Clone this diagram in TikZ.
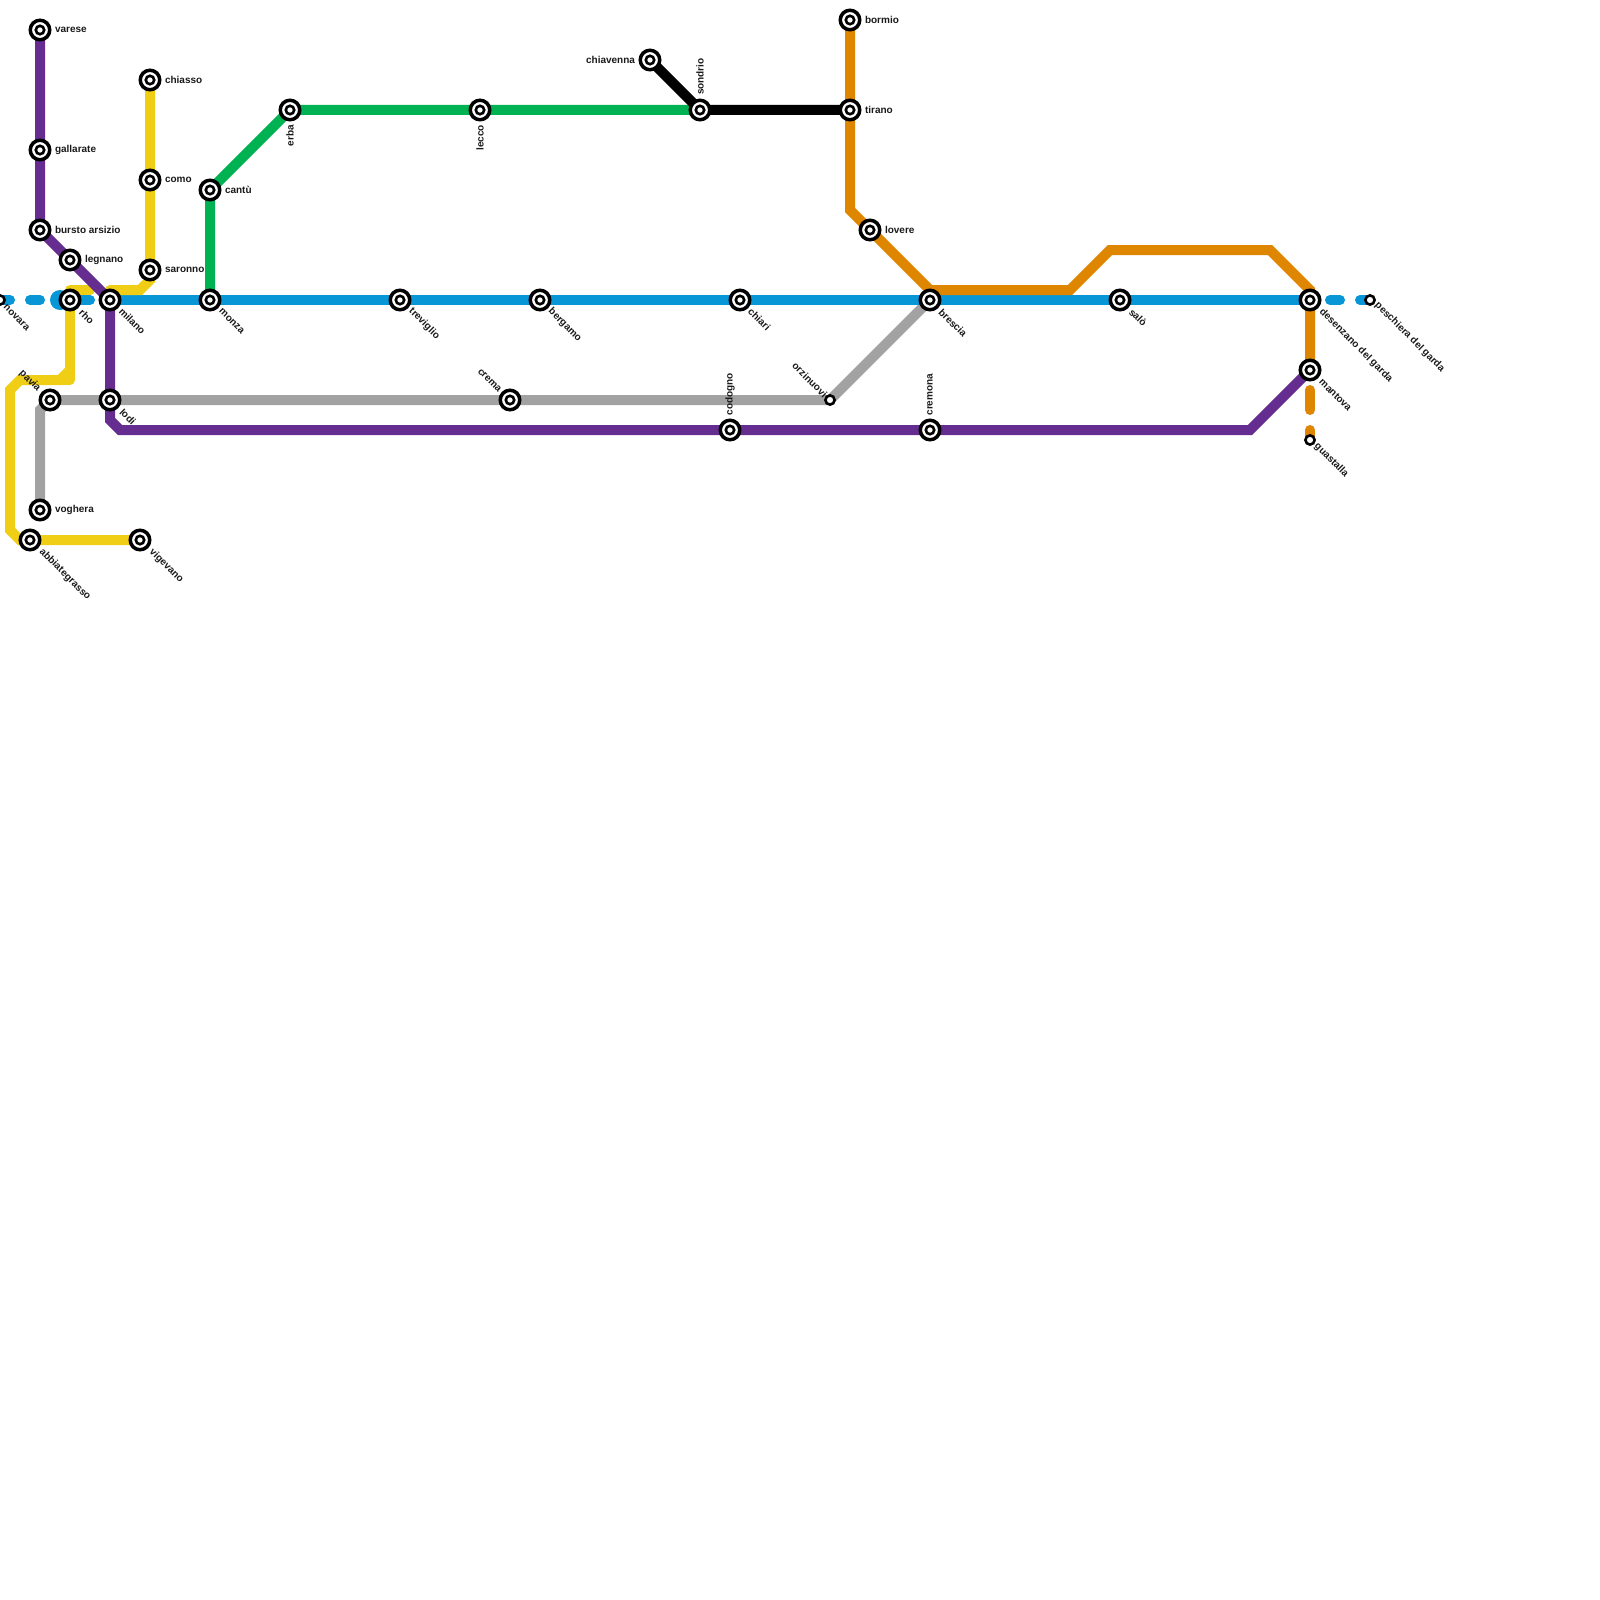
\documentclass[tikz,border=0pt]{standalone}
\usepackage{fontspec}
\setmainfont{Liberation Sans}
\begin{document}
\begin{tikzpicture}[x=0.5pt,y=-0.5pt,
  metro/.style={line width=5pt,line join=miter,line cap=round},
  blueline/.style={metro,draw=lblue},
  st/.style={circle,draw=black,fill=white,line width=1.75pt,minimum size=9.75pt,inner sep=0pt,outer sep=0pt,
    path picture={\draw[black,line width=1.3pt] (path picture bounding box.center) circle (2.1pt);}},
  sm/.style={circle,draw=black,fill=white,line width=1.3pt,minimum size=4.6pt,inner sep=0pt,outer sep=0pt},
  lab/.style={font=\bfseries\fontsize{5}{6}\selectfont,text=labc,inner sep=0pt,outer sep=0pt},
  rt/.style={lab,anchor=west},
  lf/.style={lab,anchor=east},
  dr/.style={lab,rotate=-45,anchor=west},
  ul/.style={lab,rotate=-45,anchor=east},
  up/.style={lab,rotate=90,anchor=west},
  dn/.style={lab,rotate=90,anchor=east}]
\definecolor{lblue}{HTML}{0896D7}
\definecolor{lyellow}{HTML}{F0CE15}
\definecolor{lpurple}{HTML}{662D91}
\definecolor{lgreen}{HTML}{00B251}
\definecolor{lorange}{HTML}{DF8600}
\definecolor{lgrey}{HTML}{A2A2A2}
\definecolor{labc}{HTML}{1A1A1A}
\useasboundingbox (0,0) rectangle (1600,1600);
\coordinate (varese) at (40,30);
\coordinate (gallarate) at (40,150);
\coordinate (bursto) at (40,230);
\coordinate (legnano) at (70,260);
\coordinate (milano) at (110,300);
\coordinate (rho) at (70,300);
\coordinate (saronno) at (150,270);
\coordinate (como) at (150,180);
\coordinate (chiasso) at (150,80);
\coordinate (monza) at (210,300);
\coordinate (cantu) at (210,190);
\coordinate (erba) at (290,110);
\coordinate (lecco) at (480,110);
\coordinate (sondrio) at (700,110);
\coordinate (chiavenna) at (650,60);
\coordinate (tirano) at (850,110);
\coordinate (bormio) at (850,20);
\coordinate (lovere) at (870,230);
\coordinate (brescia) at (930,300);
\coordinate (treviglio) at (400,300);
\coordinate (bergamo) at (540,300);
\coordinate (chiari) at (740,300);
\coordinate (salo) at (1120,300);
\coordinate (desenzano) at (1310,300);
\coordinate (mantova) at (1310,370);
\coordinate (guastalla) at (1310,440);
\coordinate (peschiera) at (1370,300);
\coordinate (novara) at (0,300);
\coordinate (orzinuovi) at (830,400);
\coordinate (crema) at (510,400);
\coordinate (codogno) at (730,430);
\coordinate (cremona) at (930,430);
\coordinate (lodi) at (110,400);
\coordinate (pavia) at (50,400);
\coordinate (voghera) at (40,510);
\coordinate (abbiategrasso) at (30,540);
\coordinate (vigevano) at (140,540);
% grey
\draw[metro,draw=lgrey] (voghera) -- (40,410) -- (pavia) -- (lodi) -- (crema) -- (orzinuovi) -- (brescia);
% blue
\draw[blueline] (novara) -- (10,300);
\draw[blueline] (30,300) -- (40,300);
\fill[lblue] (60,300) circle (5pt);
\draw[blueline] (60,300) -- (90,300);
\draw[blueline] (milano) -- (monza) -- (treviglio) -- (bergamo) -- (chiari) -- (brescia) -- (salo) -- (desenzano);
\draw[blueline] (1330,300) -- (1340,300);
\draw[blueline] (1360,300) -- (peschiera);
% yellow
\draw[metro,draw=lyellow] (chiasso) -- (como) -- (saronno) -- (150,280) -- (140,290) -- (110,290);
\draw[metro,draw=lyellow,line join=round] (90,290) -- (70,290) -- (rho) -- (70,380) -- (60,380);
\draw[metro,draw=lyellow] (70,370) -- (60,380) -- (20,380) -- (10,390) -- (10,530) -- (20,540) -- (abbiategrasso) -- (vigevano);
% green
\draw[metro,draw=lgreen] (monza) -- (cantu) -- (erba) -- (lecco) -- (sondrio);
% black
\draw[metro,draw=black] (chiavenna) -- (sondrio) -- (tirano);
% purple
\draw[metro,draw=lpurple] (varese) -- (gallarate) -- (bursto) -- (legnano) -- (milano) -- (lodi) -- (110,420) -- (120,430) -- (codogno) -- (cremona) -- (1250,430) -- (mantova);
% orange
\draw[metro,draw=lorange] (bormio) -- (tirano) -- (850,210) -- (lovere) -- (930,290) -- (1070,290) -- (1110,250) -- (1270,250) -- (1310,290) -- (mantova);
\draw[metro,draw=lorange] (1310,390) -- (1310,410);
\draw[metro,draw=lorange] (1310,430) -- (guastalla);
% station markers
\foreach \n in {varese,gallarate,bursto,legnano,milano,rho,saronno,como,chiasso,monza,cantu,erba,lecco,sondrio,chiavenna,tirano,bormio,lovere,brescia,treviglio,bergamo,chiari,salo,desenzano,mantova,crema,codogno,cremona,lodi,pavia,voghera,abbiategrasso,vigevano}
  \node[st] (m\n) at (\n) {};
\foreach \n in {guastalla,peschiera,novara,orzinuovi}
  \node[sm] (m\n) at (\n) {};
% labels
\node[rt] at (55,29.5) {varese};
\node[rt] at (55,149.5) {gallarate};
\node[rt] at (55,229.5) {bursto arsizio};
\node[rt] at (85,259.5) {legnano};
\node[rt] at (165,79.5) {chiasso};
\node[rt] at (165,179.5) {como};
\node[rt] at (165,269.5) {saronno};
\node[rt] at (225,189.5) {cantù};
\node[rt] at (865,19.5) {bormio};
\node[rt] at (865,109.5) {tirano};
\node[rt] at (885,229.5) {lovere};
\node[rt] at (55,509.5) {voghera};
\node[lf] at (635,59.5) {chiavenna};
\node[dr] at (81,311) {rho};
\node[dr] at (121,310) {milano};
\node[dr] at (220.5,310) {monza};
\node[dr] at (410.5,310) {treviglio};
\node[dr] at (550,310) {bergamo};
\node[dr] at (750,310) {chiari};
\node[dr] at (940.5,310.5) {brescia};
\node[dr] at (1131,310.5) {salò};
\node[dr] at (1321,310.5) {desenzano del garda};
\node[dr] at (1321,380.5) {mantova};
\node[dr] at (1316,445) {guastalla};
\node[dr] at (1376.5,304) {peschiera del garda};
\node[dr] at (5,306) {novara};
\node[dr] at (121.5,410.5) {lodi};
\node[dr] at (41,550.5) {abbiategrasso};
\node[dr] at (151,550.5) {vigevano};
\node[ul] at (39,390) {pavia};
\node[ul] at (500,391) {crema};
\node[ul] at (825.5,395.5) {orzinuovi};
\node[up] at (730,415.5) {codogno};
\node[up] at (930,415.5) {cremona};
\node[up] at (700,95) {sondrio};
\node[dn] at (290,125) {erba};
\node[dn] at (480,125) {lecco};
\end{tikzpicture}
\end{document}
